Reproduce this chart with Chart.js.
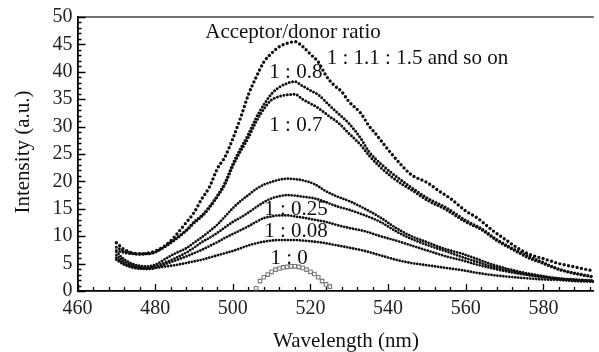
<!DOCTYPE html>
<html><head><meta charset="utf-8">
<script src="https://cdn.jsdelivr.net/npm/chart.js@4.4.1/dist/chart.umd.min.js"></script>
<style>html,body{margin:0;padding:0;background:#fff;overflow:hidden}canvas{display:block}</style>
</head><body>
<canvas id="c" width="599" height="352"></canvas>
<script>
// ---- tick labels ----
const xTickValues = [460, 480, 500, 520, 540, 560, 580];
const yTickValues = [0, 5, 10, 15, 20, 25, 30, 35, 40, 45, 50];

// ---- series: 1 : 1.1 : 1.5 and so on ----
const waveA = [470,472,474,476,478,480,483,485,488,490,492,494,496,498,500,502,504,506,508,510,512,514,516,518,520,522,524,526,528,530,533,535,537,540,543,546,550,553,556,560,563,567,570,573,576,580,584,588,592,593];
const intA  = [8.8,7.6,7.0,6.8,6.9,7.3,8.5,9.9,12.5,14.3,16.8,19.0,22.3,24.5,27.8,31.6,35.8,39.0,41.8,43.4,44.6,45.2,45.5,44.6,43.2,41.8,39.3,37.6,36.4,34.5,32.4,30.2,28.5,25.8,23.3,21.2,19.8,18.3,16.9,14.6,13.3,11.0,9.5,8.0,6.8,5.9,5.0,4.4,3.8,3.7];

// ---- series: 1 : 0.8 and 1 : 0.7 ----
const waveBC = [470,472,474,476,478,480,483,485,488,490,492,494,496,498,500,502,504,506,508,510,512,514,516,518,520,522,525,527,530,533,535,538,541,544,547,550,555,560,564,568,572,576,580,584,588,593];
const intB   = [8.0,7.3,6.9,6.8,6.8,7.1,8.4,9.4,11.1,12.6,13.8,15.4,17.4,19.8,23.2,26.0,28.6,31.6,34.0,36.0,37.2,37.9,38.2,37.4,36.6,35.8,33.8,32.5,30.5,27.8,25.5,23.3,21.5,19.9,18.4,17.0,15.2,12.9,11.4,9.4,7.8,6.4,5.2,4.0,3.3,2.6];
const intC   = [7.4,7.0,6.8,6.7,6.8,7.1,8.3,9.3,11.0,12.4,13.6,15.2,17.2,19.5,22.8,25.5,28.0,30.9,33.2,34.9,35.5,35.8,35.9,35.0,34.2,33.4,31.8,30.8,28.7,26.6,24.8,22.6,20.8,19.3,18.0,16.6,14.8,12.6,11.2,9.2,7.6,6.1,5.0,3.9,3.2,2.5];

// ---- lower series (1 : 0.25, 1 : 0.08 group) ----
const waveLow = [470,472,474,476,478,480,483,485,488,490,492,494,496,498,500,502,504,506,508,510,512,514,516,518,521,524,527,530,534,538,542,546,550,555,559,563,567,571,576,580,584,588,593];
const intD = [7.1,5.8,5.0,4.6,4.5,4.8,6.0,6.8,7.8,8.8,9.8,10.9,12.1,13.6,15.1,16.4,17.5,18.6,19.4,19.9,20.3,20.5,20.4,20.2,19.5,18.2,17.2,16.4,15.0,13.4,11.5,10.0,8.9,7.6,6.8,5.8,4.8,4.0,3.2,2.7,2.3,2.1,1.9];
const intE = [6.5,5.4,4.7,4.3,4.2,4.5,5.3,5.9,7.0,7.9,8.9,9.7,10.6,11.6,12.6,13.4,14.3,15.3,16.2,16.9,17.3,17.5,17.4,17.2,16.9,16.2,15.4,14.8,13.8,12.6,10.9,9.5,8.4,7.2,6.2,5.3,4.4,3.7,3.0,2.6,2.2,2.0,1.8];
const intF = [6.0,5.0,4.4,4.1,4.0,4.2,5.0,5.5,6.3,6.9,7.5,8.2,8.9,9.7,10.4,11.1,11.8,12.6,13.3,13.6,13.8,13.8,13.6,13.4,13.0,12.6,12.0,11.5,10.9,10.0,9.2,8.3,7.4,6.3,5.6,4.8,4.1,3.5,2.9,2.5,2.2,2.0,1.8];
const intG = [5.7,4.8,4.3,4.1,4.1,4.2,4.5,4.7,5.1,5.4,5.7,6.1,6.5,6.9,7.3,7.8,8.3,8.7,9.0,9.2,9.3,9.3,9.3,9.2,9.0,8.7,8.3,7.9,7.3,6.5,5.7,5.1,4.7,4.2,3.8,3.3,2.9,2.6,2.3,2.1,2.0,1.8,1.7];

// ---- series: 1 : 0 ----
const waveH = [506,507,508,509,510,511,512,513,514,515,516,517,518,519,520,521,522,523,524,525];
const intH  = [0.5,1.8,2.5,3.0,3.5,3.9,4.1,4.3,4.4,4.5,4.5,4.4,4.2,3.9,3.5,3.1,2.5,1.8,1.2,0.8];

// ---- annotation texts (anchored in data units) ----
const labelTexts = ['Acceptor/donor ratio', '1 : 1.1 : 1.5 and so on', '1 : 0.8', '1 : 0.7', '1 : 0.25', '1 : 0.08', '1 : 0'];
const labelWave  = [492.9, 524.2, 509.4, 509.4, 508.1, 508.1, 509.7];
const labelInt   = [47.2, 42.5, 39.9, 30.2, 14.9, 10.9, 6.0];

const xTitle = 'Wavelength (nm)';
const yTitle = 'Intensity (a.u.)';

function pts(xs, ys) { return xs.map((x, i) => ({ x: x, y: ys[i] })); }
function dotted(label, xs, ys, w, gap) {
  return {
    label: label, data: pts(xs, ys), borderColor: '#111', backgroundColor: '#111',
    borderWidth: w, borderDash: [0, gap], borderCapStyle: 'round',
    pointRadius: 0, cubicInterpolationMode: 'monotone', fill: false
  };
}

const SERIF = '"Liberation Serif", "DejaVu Serif", serif';

const decor = {
  id: 'decor',
  afterDraw(chart) {
    const ctx = chart.ctx, xs = chart.scales.x, ys = chart.scales.y, a = chart.chartArea;
    ctx.save();
    // top frame line
    ctx.strokeStyle = '#444'; ctx.lineWidth = 1.6;
    ctx.beginPath(); ctx.moveTo(a.left, a.top); ctx.lineTo(a.right, a.top); ctx.stroke();
    // inward ticks
    ctx.strokeStyle = '#000'; ctx.lineWidth = 1.3;
    ctx.beginPath();
    for (let v = 460; v <= 592; v += 4) {
      const px = Math.round(xs.getPixelForValue(v)) + 0.5;
      const len = (v % 20 === 0) ? 7 : 4;
      ctx.moveTo(px, a.bottom); ctx.lineTo(px, a.bottom - len);
    }
    for (let v = 0; v <= 50; v += 1) {
      const py = Math.round(ys.getPixelForValue(v)) + 0.5;
      const len = (v % 5 === 0) ? 8 : 4;
      ctx.moveTo(a.left, py); ctx.lineTo(a.left + len, py);
    }
    ctx.stroke();
    // annotations
    ctx.fillStyle = '#111';
    ctx.font = '21px ' + SERIF;
    ctx.textAlign = 'left'; ctx.textBaseline = 'middle';
    labelTexts.forEach((t, i) => {
      ctx.fillText(t, xs.getPixelForValue(labelWave[i]), ys.getPixelForValue(labelInt[i]));
    });
    // axis titles
    ctx.textAlign = 'center';
    ctx.fillText(xTitle, 346, 341);
    ctx.translate(23, 152); ctx.rotate(-Math.PI / 2);
    ctx.fillText(yTitle, 0, 0);
    ctx.restore();
  }
};

new Chart(document.getElementById('c'), {
  type: 'line',
  data: {
    datasets: [
      dotted('1 : 1.1 : 1.5 and so on', waveA, intA, 3.4, 4.4),
      dotted('1 : 0.8', waveBC, intB, 3.0, 3.4),
      dotted('1 : 0.7', waveBC, intC, 3.0, 3.4),
      dotted('series 4', waveLow, intD, 2.8, 3.0),
      dotted('1 : 0.25', waveLow, intE, 2.8, 3.0),
      dotted('1 : 0.08', waveLow, intF, 2.8, 3.0),
      dotted('series 7', waveLow, intG, 2.8, 3.0),
      {
        label: '1 : 0', data: pts(waveH, intH), showLine: false,
        pointStyle: 'rect', pointRadius: 2.5, pointBorderWidth: 1.1,
        pointBorderColor: '#7a7a7a', pointBackgroundColor: '#fff'
      }
    ]
  },
  options: {
    responsive: false, animation: false, devicePixelRatio: 1,
    layout: { padding: { top: 17, right: 0, left: 0, bottom: 0 } },
    plugins: { legend: { display: false }, tooltip: { enabled: false } },
    scales: {
      x: {
        type: 'linear', min: 460, max: 593,
        grid: { display: false, drawTicks: false },
        border: { display: true, color: '#000', width: 1.8 },
        afterBuildTicks: s => { s.ticks = xTickValues.map(v => ({ value: v })); },
        afterFit: s => { s.height = 61; },
        ticks: { autoSkip: false, maxRotation: 0, padding: 6, color: '#222',
                 font: { family: SERIF, size: 20 } }
      },
      y: {
        type: 'linear', min: 0, max: 50,
        grid: { display: false, drawTicks: false },
        border: { display: true, color: '#000', width: 1.8 },
        afterBuildTicks: s => { s.ticks = yTickValues.map(v => ({ value: v })); },
        afterFit: s => { s.width = 77.5; },
        ticks: { autoSkip: false, padding: 5, color: '#222',
                 font: { family: SERIF, size: 20 } }
      }
    }
  },
  plugins: [decor]
});
</script>
</body></html>
